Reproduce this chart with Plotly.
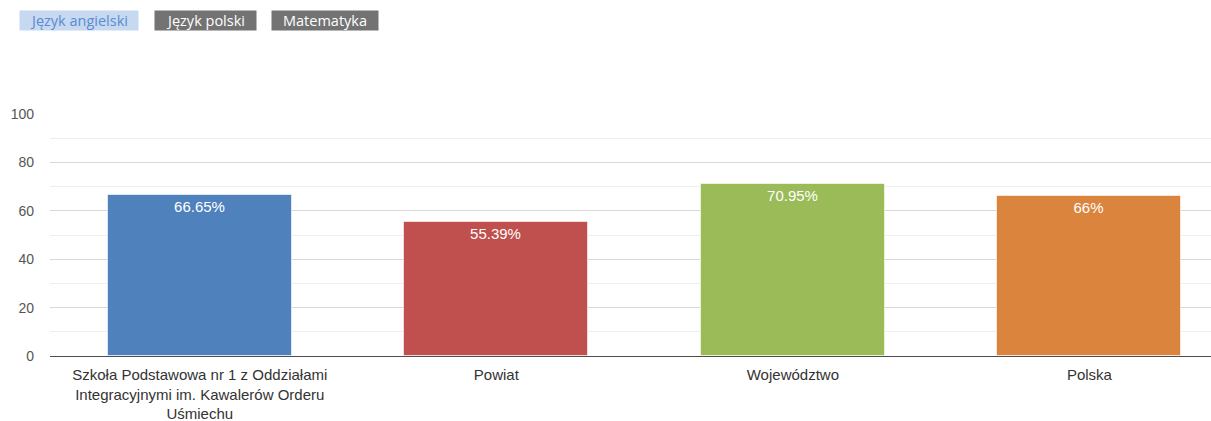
import plotly.graph_objects as go

# Data
categories = [
    "Szkoła Podstawowa nr 1 z Oddziałami<br>Integracyjnymi im. Kawalerów Orderu<br>Uśmiechu",
    "Powiat",
    "Województwo",
    "Polska",
]
values = [66.65, 55.39, 70.95, 66]
value_labels = ["66.65%", "55.39%", "70.95%", "66%"]
bar_colors = ["#4f81bd", "#c0504d", "#9bbb59", "#db843d"]
tabs = ["Język angielski", "Język polski", "Matematyka"]
y_ticks = [0, 20, 40, 60, 80, 100]

W, H = 1211, 421
M_L, M_R, M_T, M_B = 50, 0, 114, 65

fig = go.Figure()
fig.add_trace(go.Bar(
    x=list(range(len(categories))),
    y=values,
    marker=dict(color=bar_colors, line=dict(color="rgba(255,255,255,0.6)", width=1)),
    width=0.62,
    text=value_labels,
    textposition="inside",
    insidetextanchor="end",
    textfont=dict(family="Liberation Sans, Arial, sans-serif", size=15, color="#ffffff"),
    cliponaxis=False,
    hoverinfo="skip",
))


def px_x(p):
    return (p - M_L) / (W - M_L - M_R)


def px_y(p):
    return 1 - (p - M_T) / (H - M_T - M_B)


# Subject tabs above the chart
tab_boxes = [(19, 118), (154, 101), (271, 106)]
annotations = []
for i, (name, (x0, w)) in enumerate(zip(tabs, tab_boxes)):
    active = i == 0
    annotations.append(dict(
        text=name,
        xref="paper", yref="paper",
        x=px_x(x0), y=px_y(10),
        xanchor="left", yanchor="top",
        width=w, height=19,
        align="center", valign="middle",
        showarrow=False,
        borderpad=0,
        bgcolor="#c6d9f0" if active else "#737373",
        font=dict(family="Open Sans, Noto Sans, sans-serif", size=14.5,
                  color="#5b8bd0" if active else "#ffffff"),
    ))

fig.update_layout(
    width=W, height=H,
    margin=dict(l=M_L, r=M_R, t=M_T, b=M_B, pad=0),
    paper_bgcolor="#ffffff",
    plot_bgcolor="#ffffff",
    showlegend=False,
    bargap=0,
    annotations=annotations,
    font=dict(family="Liberation Sans, Arial, sans-serif", size=14, color="#333333"),
    xaxis=dict(
        range=[-0.505, 3.41],
        tickvals=list(range(len(categories))),
        ticktext=categories,
        showgrid=False,
        zeroline=False,
        showline=True,
        linecolor="#4d4d4d",
        linewidth=1,
        ticks="",
        ticklabelstandoff=5,
        tickfont=dict(size=15, color="#333333"),
        fixedrange=True,
    ),
    yaxis=dict(
        range=[0, 100],
        tickvals=y_ticks,
        showgrid=True,
        gridcolor="#d9d9d9",
        gridwidth=1,
        minor=dict(dtick=10, showgrid=True, gridcolor="#efefef", gridwidth=1),
        zeroline=False,
        showline=False,
        ticks="",
        ticklabelstandoff=15,
        tickfont=dict(size=14, color="#555555"),
        fixedrange=True,
    ),
)

fig.write_html("out.html")
